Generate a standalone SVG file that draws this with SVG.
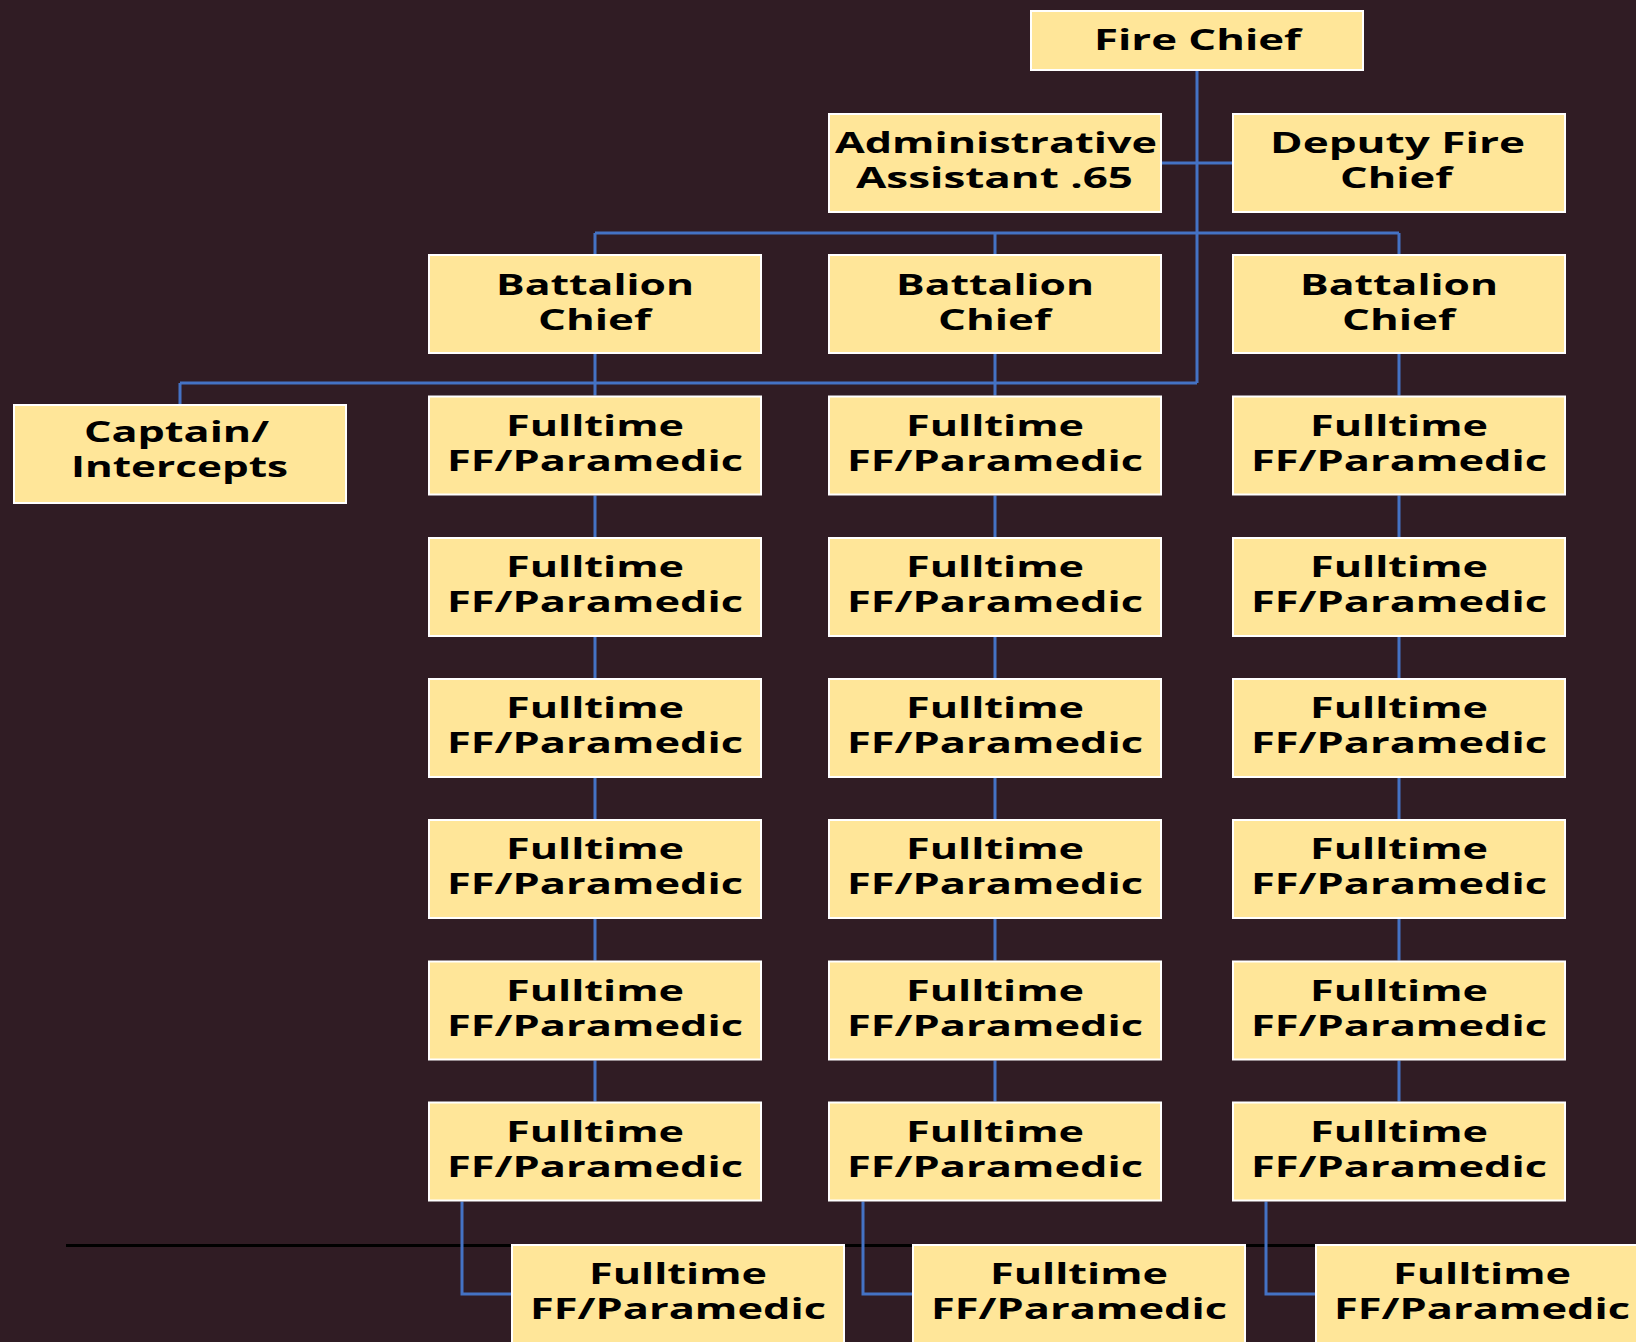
<svg xmlns="http://www.w3.org/2000/svg" width="1636" height="1342" viewBox="0 0 1636 1342">
<style>
.box{fill:#FFE699;stroke:#FFFFFF;stroke-width:2}
.t{font-family:"Open Sans","Liberation Sans",sans-serif;font-weight:bold;font-size:28px;fill:#000}
.c{stroke:#4472C4;stroke-width:3;fill:none}
</style>
<rect x="0" y="0" width="1636" height="1342" fill="#301C24"/>
<line x1="66" y1="1245.5" x2="1636" y2="1245.5" stroke="#000" stroke-width="3"/>
<g id="connectors">
<path class="c" d="M1197 71V383M1162 163H1232M595 233H1399M595 233V254M995 233V254M1399 233V254M180 383H1197M180 383V404"/>
<path class="c" d="M595 354V395.5M995 354V395.5M1399 354V395.5"/>
<path class="c" d="M595 495.5V537M995 495.5V537M1399 495.5V537M595 637V678M995 637V678M1399 637V678M595 778V819M995 778V819M1399 778V819M595 919V960.5M995 919V960.5M1399 919V960.5M595 1060.5V1101.5M995 1060.5V1101.5M1399 1060.5V1101.5"/>
<path class="c" d="M462 1201.5V1294H511M863 1201.5V1294H912M1266 1201.5V1294H1315"/>
</g>
<g id="fire-chief"><rect class="box" x="1031" y="11" width="332" height="59"/><text class="t" x="1094" y="50" textLength="207" lengthAdjust="spacingAndGlyphs">Fire Chief</text></g>
<g id="admin-assistant"><rect class="box" x="829" y="114" width="332" height="98"/><text class="t" x="835" y="153" textLength="322" lengthAdjust="spacingAndGlyphs">Administrative</text><text class="t" x="856" y="188" textLength="277" lengthAdjust="spacingAndGlyphs">Assistant .65</text></g>
<g id="deputy-fire-chief"><rect class="box" x="1233" y="114" width="332" height="98"/><text class="t" x="1270" y="153" textLength="255" lengthAdjust="spacingAndGlyphs">Deputy Fire</text><text class="t" x="1340" y="188" textLength="112" lengthAdjust="spacingAndGlyphs">Chief</text></g>
<g id="battalion-chief-1"><rect class="box" x="429" y="255" width="332" height="98"/><text class="t" x="496" y="295" textLength="198" lengthAdjust="spacingAndGlyphs">Battalion</text><text class="t" x="538" y="330" textLength="113" lengthAdjust="spacingAndGlyphs">Chief</text></g>
<g id="battalion-chief-2"><rect class="box" x="829" y="255" width="332" height="98"/><text class="t" x="896" y="295" textLength="198" lengthAdjust="spacingAndGlyphs">Battalion</text><text class="t" x="938" y="330" textLength="113" lengthAdjust="spacingAndGlyphs">Chief</text></g>
<g id="battalion-chief-3"><rect class="box" x="1233" y="255" width="332" height="98"/><text class="t" x="1300" y="295" textLength="198" lengthAdjust="spacingAndGlyphs">Battalion</text><text class="t" x="1342" y="330" textLength="113" lengthAdjust="spacingAndGlyphs">Chief</text></g>
<g id="captain-intercepts"><rect class="box" x="14" y="405" width="332" height="98"/><text class="t" x="84" y="442" textLength="185" lengthAdjust="spacingAndGlyphs">Captain/</text><text class="t" x="71" y="477" textLength="217" lengthAdjust="spacingAndGlyphs">Intercepts</text></g>
<g id="ff-1-1"><rect class="box" x="429" y="396.5" width="332" height="98"/><text class="t" x="506" y="435.5" textLength="178" lengthAdjust="spacingAndGlyphs">Fulltime</text><text class="t" x="447" y="470.5" textLength="296" lengthAdjust="spacingAndGlyphs">FF/Paramedic</text></g>
<g id="ff-2-1"><rect class="box" x="829" y="396.5" width="332" height="98"/><text class="t" x="906" y="435.5" textLength="178" lengthAdjust="spacingAndGlyphs">Fulltime</text><text class="t" x="847" y="470.5" textLength="296" lengthAdjust="spacingAndGlyphs">FF/Paramedic</text></g>
<g id="ff-3-1"><rect class="box" x="1233" y="396.5" width="332" height="98"/><text class="t" x="1310" y="435.5" textLength="178" lengthAdjust="spacingAndGlyphs">Fulltime</text><text class="t" x="1251" y="470.5" textLength="296" lengthAdjust="spacingAndGlyphs">FF/Paramedic</text></g>
<g id="ff-1-2"><rect class="box" x="429" y="538" width="332" height="98"/><text class="t" x="506" y="577" textLength="178" lengthAdjust="spacingAndGlyphs">Fulltime</text><text class="t" x="447" y="612" textLength="296" lengthAdjust="spacingAndGlyphs">FF/Paramedic</text></g>
<g id="ff-2-2"><rect class="box" x="829" y="538" width="332" height="98"/><text class="t" x="906" y="577" textLength="178" lengthAdjust="spacingAndGlyphs">Fulltime</text><text class="t" x="847" y="612" textLength="296" lengthAdjust="spacingAndGlyphs">FF/Paramedic</text></g>
<g id="ff-3-2"><rect class="box" x="1233" y="538" width="332" height="98"/><text class="t" x="1310" y="577" textLength="178" lengthAdjust="spacingAndGlyphs">Fulltime</text><text class="t" x="1251" y="612" textLength="296" lengthAdjust="spacingAndGlyphs">FF/Paramedic</text></g>
<g id="ff-1-3"><rect class="box" x="429" y="679" width="332" height="98"/><text class="t" x="506" y="718" textLength="178" lengthAdjust="spacingAndGlyphs">Fulltime</text><text class="t" x="447" y="753" textLength="296" lengthAdjust="spacingAndGlyphs">FF/Paramedic</text></g>
<g id="ff-2-3"><rect class="box" x="829" y="679" width="332" height="98"/><text class="t" x="906" y="718" textLength="178" lengthAdjust="spacingAndGlyphs">Fulltime</text><text class="t" x="847" y="753" textLength="296" lengthAdjust="spacingAndGlyphs">FF/Paramedic</text></g>
<g id="ff-3-3"><rect class="box" x="1233" y="679" width="332" height="98"/><text class="t" x="1310" y="718" textLength="178" lengthAdjust="spacingAndGlyphs">Fulltime</text><text class="t" x="1251" y="753" textLength="296" lengthAdjust="spacingAndGlyphs">FF/Paramedic</text></g>
<g id="ff-1-4"><rect class="box" x="429" y="820" width="332" height="98"/><text class="t" x="506" y="859" textLength="178" lengthAdjust="spacingAndGlyphs">Fulltime</text><text class="t" x="447" y="894" textLength="296" lengthAdjust="spacingAndGlyphs">FF/Paramedic</text></g>
<g id="ff-2-4"><rect class="box" x="829" y="820" width="332" height="98"/><text class="t" x="906" y="859" textLength="178" lengthAdjust="spacingAndGlyphs">Fulltime</text><text class="t" x="847" y="894" textLength="296" lengthAdjust="spacingAndGlyphs">FF/Paramedic</text></g>
<g id="ff-3-4"><rect class="box" x="1233" y="820" width="332" height="98"/><text class="t" x="1310" y="859" textLength="178" lengthAdjust="spacingAndGlyphs">Fulltime</text><text class="t" x="1251" y="894" textLength="296" lengthAdjust="spacingAndGlyphs">FF/Paramedic</text></g>
<g id="ff-1-5"><rect class="box" x="429" y="961.5" width="332" height="98"/><text class="t" x="506" y="1000.5" textLength="178" lengthAdjust="spacingAndGlyphs">Fulltime</text><text class="t" x="447" y="1035.5" textLength="296" lengthAdjust="spacingAndGlyphs">FF/Paramedic</text></g>
<g id="ff-2-5"><rect class="box" x="829" y="961.5" width="332" height="98"/><text class="t" x="906" y="1000.5" textLength="178" lengthAdjust="spacingAndGlyphs">Fulltime</text><text class="t" x="847" y="1035.5" textLength="296" lengthAdjust="spacingAndGlyphs">FF/Paramedic</text></g>
<g id="ff-3-5"><rect class="box" x="1233" y="961.5" width="332" height="98"/><text class="t" x="1310" y="1000.5" textLength="178" lengthAdjust="spacingAndGlyphs">Fulltime</text><text class="t" x="1251" y="1035.5" textLength="296" lengthAdjust="spacingAndGlyphs">FF/Paramedic</text></g>
<g id="ff-1-6"><rect class="box" x="429" y="1102.5" width="332" height="98"/><text class="t" x="506" y="1141.5" textLength="178" lengthAdjust="spacingAndGlyphs">Fulltime</text><text class="t" x="447" y="1176.5" textLength="296" lengthAdjust="spacingAndGlyphs">FF/Paramedic</text></g>
<g id="ff-2-6"><rect class="box" x="829" y="1102.5" width="332" height="98"/><text class="t" x="906" y="1141.5" textLength="178" lengthAdjust="spacingAndGlyphs">Fulltime</text><text class="t" x="847" y="1176.5" textLength="296" lengthAdjust="spacingAndGlyphs">FF/Paramedic</text></g>
<g id="ff-3-6"><rect class="box" x="1233" y="1102.5" width="332" height="98"/><text class="t" x="1310" y="1141.5" textLength="178" lengthAdjust="spacingAndGlyphs">Fulltime</text><text class="t" x="1251" y="1176.5" textLength="296" lengthAdjust="spacingAndGlyphs">FF/Paramedic</text></g>
<g id="ff-1-7"><rect class="box" x="512" y="1245" width="332" height="98"/><text class="t" x="589" y="1284" textLength="178" lengthAdjust="spacingAndGlyphs">Fulltime</text><text class="t" x="530" y="1319" textLength="296" lengthAdjust="spacingAndGlyphs">FF/Paramedic</text></g>
<g id="ff-2-7"><rect class="box" x="913" y="1245" width="332" height="98"/><text class="t" x="990" y="1284" textLength="178" lengthAdjust="spacingAndGlyphs">Fulltime</text><text class="t" x="931" y="1319" textLength="296" lengthAdjust="spacingAndGlyphs">FF/Paramedic</text></g>
<g id="ff-3-7"><rect class="box" x="1316" y="1245" width="332" height="98"/><text class="t" x="1393" y="1284" textLength="178" lengthAdjust="spacingAndGlyphs">Fulltime</text><text class="t" x="1334" y="1319" textLength="296" lengthAdjust="spacingAndGlyphs">FF/Paramedic</text></g>
</svg>
